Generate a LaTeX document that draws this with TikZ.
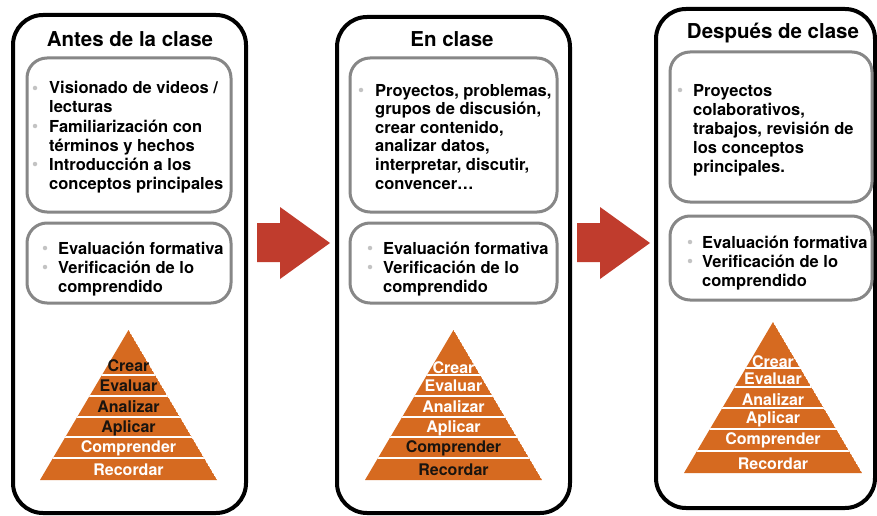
\documentclass[tikz,border=0pt]{standalone}
\usepackage{fontspec}
\setmainfont{TeX Gyre Heros}
\definecolor{pyr}{RGB}{214,106,32}
\definecolor{arr}{RGB}{192,60,45}
\definecolor{ibox}{RGB}{135,135,135}
\definecolor{bul}{RGB}{195,195,195}
\definecolor{dtext}{RGB}{25,20,15}
\tikzset{
  panel/.style={draw=black, line width=4pt, rounded corners=30pt},
  inbox/.style={draw=ibox, line width=3pt, rounded corners=20pt},
  title/.style={font=\fontsize{20.5}{24}\selectfont\bfseries, anchor=base, inner sep=0pt},
  body/.style={font=\fontsize{16.5}{19}\selectfont\bfseries, anchor=base west, inner sep=0pt},
  bulletdot/.style={circle, fill=bul, inner sep=0pt, minimum size=4.5pt},
  lvl/.style={font=\fontsize{16}{19}\selectfont\bfseries, anchor=base, inner sep=0pt},
  redarrow/.style={fill=arr, draw=none},
  sep/.style={white, line width=2pt}
}
\begin{document}
\begin{tikzpicture}[x=1pt, y=-1pt]
\useasboundingbox (0,0) rectangle (877,516);
\fill[white] (0,0) rectangle (877,516);

% ---------- panels ----------
\draw[panel] (13,15) rectangle (246,513);
\draw[panel] (337,17) rectangle (570,513);
\draw[panel] (656,9) rectangle (875,508);

% ---------- arrows ----------
\fill[redarrow] (257,223) -- (280,223) -- (280,207) -- (330,243) -- (280,279) -- (280,262) -- (257,262) -- cycle;
\fill[redarrow] (577,223) -- (600,223) -- (600,207) -- (650,243) -- (600,279) -- (600,262) -- (577,262) -- cycle;

% ---------- titles ----------
\node[title] (t1) at (130,47) {Antes de la clase};
\node[title] (t2) at (452,47) {En clase};
\node[title] (t3) at (773,39) {Después de clase};

% ---------- panel 1 boxes ----------
\draw[inbox] (27,58) rectangle (231,212);
\draw[inbox] (27,223) rectangle (231,303);
\foreach \t [count=\i from 0] in {Visionado de videos /, lecturas, Familiarización con, términos y hechos, Introducción a los, conceptos principales}
  \node[body] (a\i) at (49,94+19*\i) {\t};
\foreach \i in {0,2,4} \node[bulletdot] (ab\i) at (35,88+19*\i) {};
\foreach \t [count=\i from 0] in {Evaluación formativa, Verificación de lo, comprendido}
  \node[body] (b\i) at (58,254+19*\i) {\t};
\foreach \i in {0,1} \node[bulletdot] (bb\i) at (45,248+19*\i) {};

% ---------- panel 2 boxes ----------
\draw[inbox] (350,58) rectangle (557,212);
\draw[inbox] (350,223) rectangle (557,303);
\foreach \t [count=\i from 0] in {{Proyectos, problemas,}, {grupos de discusión,}, {crear contenido,}, {analizar datos,}, {interpretar, discutir,}, convencer…}
  \node[body] (c\i) at (375,96+18.6*\i) {\t};
\node[bulletdot] (cb0) at (361,90) {};
\foreach \t [count=\i from 0] in {Evaluación formativa, Verificación de lo, comprendido}
  \node[body] (d\i) at (383,254+19*\i) {\t};
\foreach \i in {0,1} \node[bulletdot] (db\i) at (370,248+19*\i) {};

% ---------- panel 3 boxes ----------
\draw[inbox] (670,52) rectangle (872,202);
\draw[inbox] (670,216) rectangle (872,300);
\foreach \t [count=\i from 0] in {Proyectos, {colaborativos,}, {trabajos, revisión de}, los conceptos, principales.}
  \node[body] (e\i) at (693,96+19*\i) {\t};
\node[bulletdot] (eb0) at (680,90) {};
\foreach \t [count=\i from 0] in {Evaluación formativa, Verificación de lo, comprendido}
  \node[body] (f\i) at (702,248+19*\i) {\t};
\foreach \i in {0,1} \node[bulletdot] (fb\i) at (690,242+19*\i) {};

% ---------- pyramid 1 ----------
\begin{scope}
  \clip (40,480) -- (128.5,330) -- (217,480) -- cycle;
  \fill[pyr] (40,480) -- (128.5,330) -- (217,480) -- cycle;
  \foreach \y in {375,396,417,437,458} \draw[sep] (30,\y) -- (230,\y);
\end{scope}
\node[lvl, dtext] (g1) at (128.5,371) {Crear};
\node[lvl, dtext] (g2) at (128.5,391) {Evaluar};
\node[lvl, dtext] (g3) at (128.5,412) {Analizar};
\node[lvl, dtext] (g4) at (128.5,432) {Aplicar};
\node[lvl, white] (g5) at (128.5,452) {Comprender};
\node[lvl, white] (g6) at (128.5,475) {Recordar};

% ---------- pyramid 2 ----------
\begin{scope}
  \clip (365,480) -- (453.5,330) -- (542,480) -- cycle;
  \fill[pyr] (365,480) -- (453.5,330) -- (542,480) -- cycle;
  \foreach \y in {375,396,417,437,458} \draw[sep] (355,\y) -- (555,\y);
\end{scope}
\node[lvl, white] (h1) at (453.5,373) {Crear};
\node[lvl, white] (h2) at (453.5,391) {Evaluar};
\node[lvl, white] (h3) at (453.5,412) {Analizar};
\node[lvl, white] (h4) at (453.5,432) {Aplicar};
\node[lvl, dtext] (h5) at (453.5,452) {Comprender};
\node[lvl, dtext] (h6) at (453.5,475) {Recordar};

% ---------- pyramid 3 ----------
\begin{scope}
  \clip (684,473) -- (773,322) -- (862,473) -- cycle;
  \fill[pyr] (684,473) -- (773,322) -- (862,473) -- cycle;
  \foreach \y in {368,387,408,429,451} \draw[sep] (675,\y) -- (872,\y);
\end{scope}
\node[lvl, white] (k1) at (773,367) {Crear};
\node[lvl, white] (k2) at (773,384) {Evaluar};
\node[lvl, white] (k3) at (773,405) {Analizar};
\node[lvl, white] (k4) at (773,423) {Aplicar};
\node[lvl, white] (k5) at (773,444) {Comprender};
\node[lvl, white] (k6) at (773,469) {Recordar};
\end{tikzpicture}
\end{document}
